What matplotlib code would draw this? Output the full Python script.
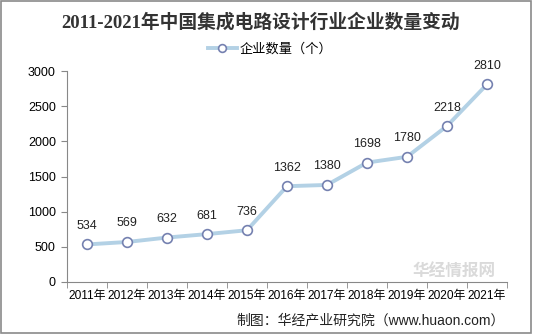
import matplotlib
matplotlib.use("Agg")
import matplotlib.pyplot as plt
from matplotlib.patches import Rectangle

plt.rcParams['font.family'] = ['Liberation Sans', 'Noto Sans CJK SC', 'DejaVu Sans']

years = ["2011年", "2012年", "2013年", "2014年", "2015年", "2016年",
         "2017年", "2018年", "2019年", "2020年", "2021年"]
counts = [534, 569, 632, 681, 736, 1362, 1380, 1698, 1780, 2218, 2810]
y_ticks = [0, 500, 1000, 1500, 2000, 2500, 3000]

fig = plt.figure(figsize=(5.33, 3.34), dpi=100)
ax = fig.add_axes([67 / 533, 52 / 334, 440 / 533, 211 / 334])

x = list(range(len(years)))
ax.plot(x, counts, color="#b3d1e5", linewidth=2.8, marker="o",
        markersize=7, markerfacecolor="white", markeredgecolor="#7581b0",
        markeredgewidth=1.2, label="企业数量（个）", zorder=3)

for xi, v in zip(x, counts):
    ax.annotate(str(v), (xi, v), xytext=(0, 9), textcoords="offset points",
                ha="center", va="bottom", fontsize=9, color="#222222")

ax.set_xlim(-0.5, len(years) - 0.5)
ax.set_ylim(0, 3000)
ax.set_yticks(y_ticks)
ax.set_yticklabels([str(t) for t in y_ticks], fontsize=9)
ax.set_xticks(x)
ax.set_xticklabels(years, fontsize=8.6)
ax.set_xticks([i - 0.5 for i in range(len(years) + 1)], minor=True)
ax.tick_params(axis="x", which="major", length=0, pad=6)
ax.tick_params(axis="x", which="minor", length=4, color="#888888")
ax.tick_params(axis="y", length=4, color="#888888", pad=4)

for side in ("top", "right"):
    ax.spines[side].set_visible(False)
for side in ("left", "bottom"):
    ax.spines[side].set_color("#888888")

fig.text(261 / 533, 1 - 22 / 334, "2011-2021年中国集成电路设计行业企业数量变动",
         ha="center", va="center", fontsize=13.5, fontweight="bold",
         color="#333333", family=['Liberation Serif', 'Noto Sans CJK SC'])
ax.legend(loc="center", bbox_to_anchor=(270 / 533, 1 - 49 / 334),
          bbox_transform=fig.transFigure, frameon=False, fontsize=9.5,
          handlelength=2.2, handletextpad=0.2, borderpad=0, markerscale=0.8)

# watermark
ax.text(0.88, 0.05, "华经情报网", transform=ax.transAxes, ha="center",
        va="center", fontsize=12, fontweight="bold", color="#dadada", zorder=0)

fig.text(505 / 533, 1 - 320 / 334, "制图：华经产业研究院（www.huaon.com）",
         ha="right", va="center", fontsize=10, color="#222222")

fig.patches.append(Rectangle((0.002, 0.003), 0.995, 0.994, transform=fig.transFigure,
                             fill=False, edgecolor="#8a8a8a", linewidth=1.2))

fig.savefig("out.png", dpi=100)
